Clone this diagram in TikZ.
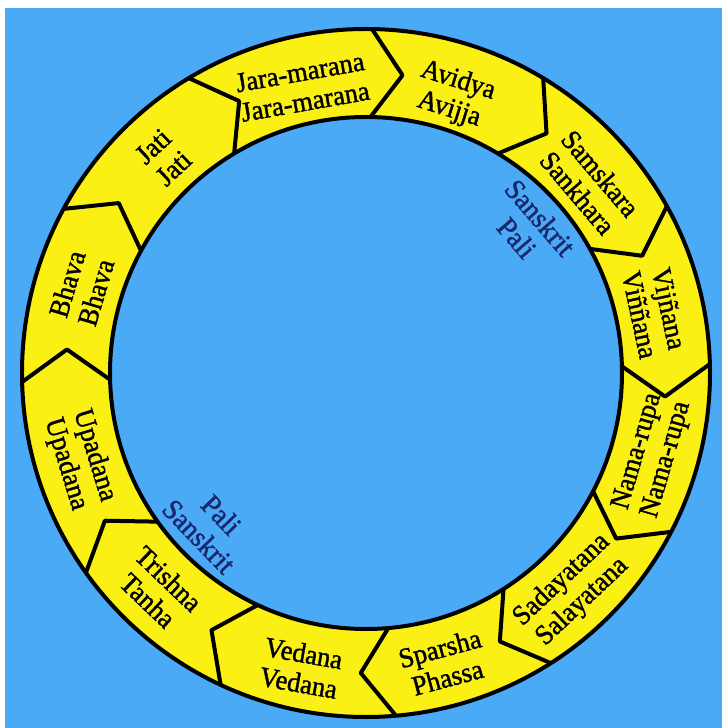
\documentclass[tikz,border=0pt]{standalone}
\usepackage{fontspec}
\setmainfont{Liberation Serif}[FakeStretch=0.95, FakeBold=1.3]
\definecolor{bgblue}{RGB}{75,170,245}
\definecolor{ringyellow}{RGB}{250,240,20}
\definecolor{navy}{RGB}{25,40,110}
\begin{document}
\begin{tikzpicture}[x=1pt,y=1pt,
  seg/.style={font=\fontsize{28}{30}\selectfont, align=center, inner sep=0pt, text=black},
  note/.style={font=\fontsize{29}{31}\selectfont, align=center, inner sep=0pt, text=navy},
  rim/.style={line width=4pt},
  divider/.style={line width=4pt, line join=round}]
\useasboundingbox (-366,-355) rectangle (356,373);
\fill[white] (-366,-355) rectangle (356,373);
\fill[bgblue] (-361,-355) rectangle (356,365);
\fill[ringyellow, even odd rule] (0,0) circle (344) (0,0) circle (256);
\draw[rim] (0,0) circle (344) (0,0) circle (256);
\foreach \a in {89,59,29,1.5,332.5,302.5,275,245,215.5,181.5,151.5,121}
  \draw[divider] (\a:344) -- ({\a-6}:300) -- (\a:256);
% top half: first line outer
\node[seg, rotate=10] (jara) at (102.5:293) {Jara-marana\\Jara-marana};
\node[seg, rotate=-17.5] (avidya) at (72.5:291) {Avidya\\Avijja};
\node[seg, rotate=-49.6] (samskara) at (40.4:293) {Samskara\\Sankhara};
\node[seg, rotate=-78] (vijnana) at (12:295) {Vijñana\\Viññana};
\node[seg, rotate=73.4] (bhava) at (163.4:297) {Bhava\\Bhava};
\node[seg, rotate=43.2] (jati) at (133.2:296) {Jati\\Jati};
% bottom half: first line inner
\node[seg, rotate=73.9] (nama) at (343.9:298) {Nama-rupa\\Nama-rupa};
\node[seg, rotate=43.4] (sada) at (313.4:300) {Sadayatana\\Salayatana};
\node[seg, rotate=15] (sparsha) at (285:300) {Sparsha\\Phassa};
\node[seg, rotate=-10] (vedana) at (257.6:302) {Vedana\\Vedana};
\node[seg, rotate=-43.8] (trishna) at (226.2:300) {Trishna\\Tanha};
\node[seg, rotate=-73] (upadana) at (196.9:299) {Upadana\\Upadana};
% language labels
\node[note, rotate=-49] (lang1) at (41.8:218) {Sanskrit\\Pali};
\node[note, rotate=-46] (lang2) at (224.4:218) {Pali\\Sanskrit};
\end{tikzpicture}
\end{document}
